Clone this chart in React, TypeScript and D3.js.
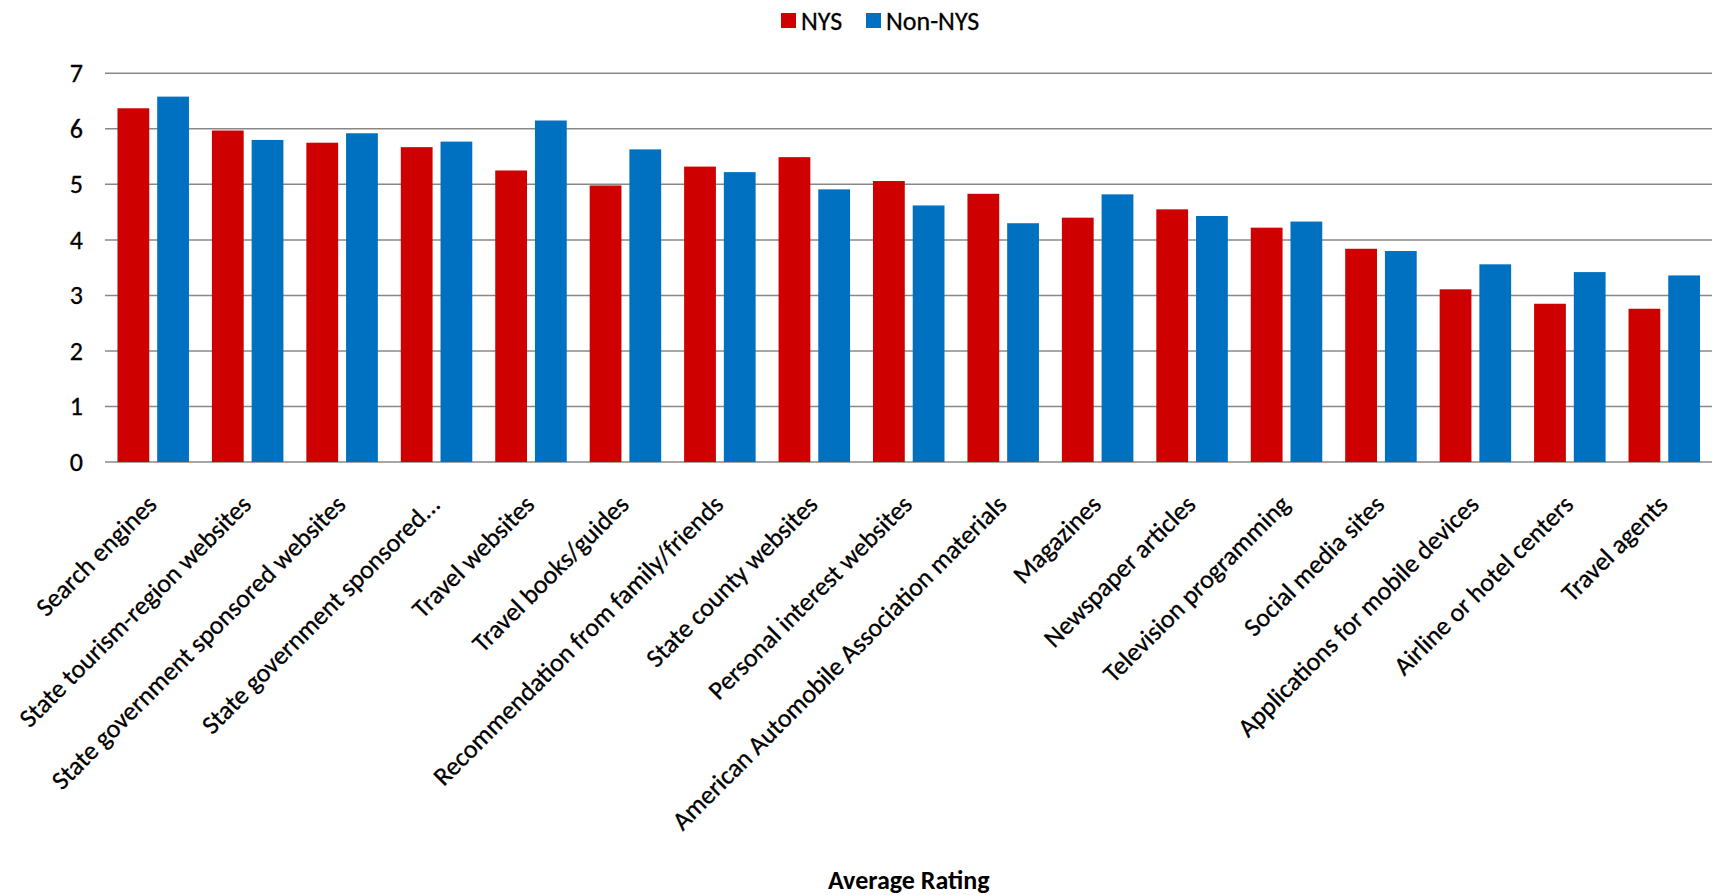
import React from "react";
import * as d3 from "d3";

const categories: string[] = [
  "Search engines",
  "State tourism-region websites",
  "State government sponsored websites",
  "State government sponsored...",
  "Travel websites",
  "Travel books/guides",
  "Recommendation from family/friends",
  "State county websites",
  "Personal interest websites",
  "American Automobile Association materials",
  "Magazines",
  "Newspaper articles",
  "Television programming",
  "Social media sites",
  "Applications for mobile devices",
  "Airline or hotel centers",
  "Travel agents",
];

const nysValues: number[] = [6.37, 5.97, 5.75, 5.67, 5.25, 4.98, 5.32, 5.49, 5.06, 4.83, 4.4, 4.55, 4.22, 3.84, 3.11, 2.85, 2.76];
const nonNysValues: number[] = [6.58, 5.8, 5.92, 5.77, 6.15, 5.63, 5.22, 4.91, 4.62, 4.3, 4.82, 4.43, 4.33, 3.8, 3.56, 3.42, 3.36];

const seriesNames: string[] = ["NYS", "Non-NYS"];
const seriesColors: string[] = ["#CF0000", "#0070C0"];
const yTicks: number[] = [0, 1, 2, 3, 4, 5, 6, 7];
const xAxisTitle = "Average Rating";

const W = 1713;
const H = 895;
const FONT = "Carlito, Calibri, Lato, sans-serif";

export default function App() {
  const plotLeft = 106;
  const plotRight = 1711.5;
  const y = d3.scaleLinear().domain([0, 7]).range([462, 73.3]);
  const x0 = d3
    .scaleBand<string>()
    .domain(categories)
    .range([plotLeft, plotRight])
    .paddingInner(0.243)
    .paddingOuter(0.1215);
  const x1 = d3
    .scaleBand<string>()
    .domain(seriesNames)
    .range([0, x0.bandwidth()])
    .paddingInner(0.2)
    .paddingOuter(0);
  const series = [nysValues, nonNysValues];

  return (
    <svg
      width={W}
      height={H}
      style={{ position: "absolute", left: 0, top: 0, background: "#fff" }}
      fontFamily={FONT}
    >
      {/* gridlines */}
      {yTicks.map((t) => (
        <line
          key={"g" + t}
          x1={plotLeft - 1}
          x2={1712}
          y1={y(t)}
          y2={y(t)}
          stroke="#888888"
          strokeWidth={1.5}
        />
      ))}
      {/* y tick labels */}
      {yTicks.map((t) => (
        <text
          key={"t" + t}
          x={83}
          y={y(t)}
          textAnchor="end"
          dominantBaseline="central"
          fontSize={26}
          fill="#000"
          stroke="#000"
          strokeWidth={0.3}
        >
          {d3.format("d")(t)}
        </text>
      ))}
      {/* bars */}
      {categories.map((c, i) => (
        <g key={c} transform={`translate(${x0(c)},0)`}>
          {seriesNames.map((s, j) => (
            <rect
              key={s}
              x={x1(s)}
              y={y(series[j][i])}
              width={x1.bandwidth()}
              height={y(0) - y(series[j][i])}
              fill={seriesColors[j]}
            />
          ))}
        </g>
      ))}
      {/* category labels */}
      {categories.map((c) => {
        const cx = (x0(c) as number) + x0.bandwidth() / 2 + 5;
        return (
          <text
            key={"l" + c}
            transform={`translate(${cx},506) rotate(-45)`}
            textAnchor="end"
            fontSize={26}
            fill="#000"
            stroke="#000"
            strokeWidth={0.3}
          >
            {c}
          </text>
        );
      })}
      {/* x axis title */}
      <text
        x={(plotLeft + plotRight) / 2}
        y={889}
        textAnchor="middle"
        fontSize={26}
        fontWeight="bold"
        fill="#000"
      >
        {xAxisTitle}
      </text>
      {/* legend */}
      <g>
        <rect x={781} y={13} width={15} height={15} fill={seriesColors[0]} />
        <text x={801} y={20.5} dominantBaseline="central" fontSize={26} fill="#000" stroke="#000" strokeWidth={0.3}>
          {seriesNames[0]}
        </text>
        <rect x={866} y={13} width={15} height={15} fill={seriesColors[1]} />
        <text x={886} y={20.5} dominantBaseline="central" fontSize={26} fill="#000" stroke="#000" strokeWidth={0.3}>
          {seriesNames[1]}
        </text>
      </g>
    </svg>
  );
}
